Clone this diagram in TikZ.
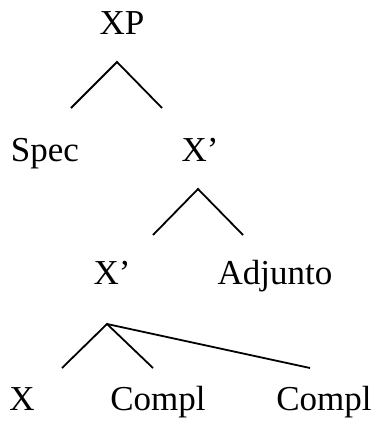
\documentclass[tikz,border=0pt]{standalone}
\usepackage{fontspec}
\setmainfont{Liberation Serif}
\usepackage{tikz}
\usetikzlibrary{positioning}

\begin{document}
\begin{tikzpicture}[x=0.5pt,y=-0.5pt,every node/.style={font=\fontsize{17.5}{20}\selectfont,inner sep=0pt,anchor=base},branch/.style={line width=0.9pt}]
  \useasboundingbox (0,0) rectangle (378,423);
  % labels
  \node (xp)   at (122,34)  {XP};
  \node (spec) at (45,161)  {Spec};
  \node (xb1)  at (200,161) {X'};
  \node (xb2)  at (112,284) {X'};
  \node (adj)  at (275,284) {Adjunto};
  \node (x)    at (22,410)  {X};
  \node (cpa)  at (158,410) {Compl};
  \node (cpb)  at (324,410) {Compl};
  % branch ends
  \coordinate (t1) at (117,62);  \coordinate (l1) at (71,108);  \coordinate (r1) at (162,108);
  \coordinate (t2) at (198,189); \coordinate (l2) at (153,235); \coordinate (r2) at (243,235);
  \coordinate (t3) at (107,324); \coordinate (l3) at (62,368);  \coordinate (m3) at (153,368);
  \coordinate (r3) at (310,368);
  \draw[branch] (l1) -- (t1) -- (r1);
  \draw[branch] (l2) -- (t2) -- (r2);
  \draw[branch] (l3) -- (t3) -- (m3);
  \draw[branch] (t3) -- (r3);
\end{tikzpicture}
\end{document}
